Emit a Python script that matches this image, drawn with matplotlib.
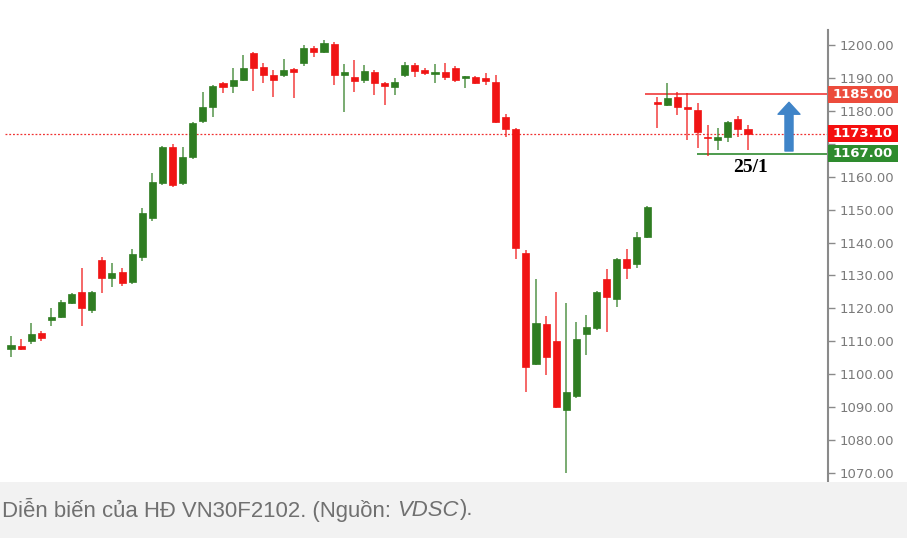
import matplotlib
matplotlib.use("Agg")
import matplotlib.pyplot as plt
import matplotlib.transforms as mtransforms
from matplotlib.patches import Rectangle
import numpy as np

# ---- data (O, H, L, C) ----
opens = [1107.7, 1108.6, 1110.1, 1112.5, 1116.5, 1117.4, 1121.6, 1125.0, 1119.5, 1134.7,
         1129.2, 1131.0, 1128.0, 1135.5, 1147.4, 1158.1, 1169.0, 1158.1, 1166.0, 1176.9,
         1181.2, 1188.5, 1187.5, 1189.4, 1197.6, 1193.3, 1190.9, 1190.9, 1192.7, 1194.5,
         1199.1, 1197.9, 1200.3, 1190.9, 1190.3, 1189.4, 1191.8, 1188.5, 1187.2, 1190.9,
         1193.9, 1192.4, 1191.2, 1191.8, 1193.0, 1190.0, 1190.3, 1190.0, 1188.8, 1178.1,
         1174.5, 1136.8, 1103.1, 1115.3, 1110.1, 1089.1, 1093.4, 1112.2, 1114.0, 1128.9,
         1122.8, 1135.0, 1133.5, 1141.7, 1182.7, 1181.8, 1184.2, 1181.1, 1180.3, 1172.0,
         1171.1, 1172.1, 1177.5, 1174.5]
highs = [1111.6, 1110.7, 1115.6, 1113.1, 1120.1, 1122.5, 1124.7, 1132.3, 1125.3, 1135.6,
         1133.8, 1132.3, 1138.0, 1150.5, 1161.1, 1169.3, 1169.9, 1169.0, 1176.6, 1185.7,
         1187.8, 1188.8, 1193.0, 1197.0, 1197.9, 1194.5, 1192.4, 1195.7, 1193.0, 1200.0,
         1199.7, 1201.5, 1200.9, 1194.2, 1195.4, 1193.9, 1192.4, 1188.8, 1190.0, 1194.8,
         1194.5, 1193.0, 1194.2, 1194.5, 1193.6, 1190.6, 1190.6, 1191.5, 1190.9, 1179.0,
         1174.8, 1137.7, 1128.9, 1117.7, 1125.0, 1121.6, 1115.9, 1118.0, 1125.3, 1132.0,
         1135.3, 1138.0, 1143.2, 1151.1, 1184.2, 1188.5, 1185.7, 1185.4, 1182.4, 1175.7,
         1174.8, 1176.9, 1178.4, 1175.7]
lows = [1105.2, 1107.5, 1109.2, 1110.1, 1114.6, 1117.1, 1121.4, 1114.6, 1118.6, 1124.7,
        1126.5, 1126.8, 1127.5, 1134.5, 1146.5, 1157.5, 1156.9, 1157.5, 1165.4, 1176.3,
        1178.1, 1185.4, 1185.4, 1189.1, 1186.0, 1188.5, 1184.2, 1190.3, 1183.9, 1193.6,
        1196.4, 1197.6, 1187.8, 1179.6, 1185.7, 1188.5, 1184.8, 1181.8, 1184.8, 1190.3,
        1190.3, 1190.9, 1188.5, 1189.4, 1188.8, 1186.9, 1188.2, 1187.8, 1176.3, 1172.1,
        1135.0, 1094.6, 1102.8, 1099.8, 1089.7, 1070.0, 1092.8, 1105.8, 1113.4, 1112.8,
        1120.4, 1128.9, 1132.3, 1141.4, 1174.8, 1181.5, 1178.7, 1171.1, 1168.7, 1166.3,
        1168.1, 1170.5, 1172.1, 1168.1]
closes = [1108.9, 1107.7, 1112.2, 1111.0, 1117.4, 1121.9, 1124.4, 1120.1, 1125.0, 1129.2,
          1130.7, 1127.7, 1136.5, 1149.0, 1158.4, 1169.0, 1157.5, 1166.0, 1176.3, 1181.2,
          1187.5, 1187.2, 1189.4, 1193.0, 1193.0, 1190.9, 1189.4, 1192.4, 1191.8, 1199.1,
          1197.9, 1200.6, 1190.9, 1191.8, 1189.1, 1192.1, 1188.5, 1187.5, 1188.8, 1193.9,
          1192.1, 1191.5, 1191.8, 1190.3, 1189.4, 1190.3, 1188.5, 1189.1, 1176.6, 1174.5,
          1138.3, 1102.2, 1115.6, 1105.2, 1090.0, 1094.6, 1110.7, 1114.3, 1125.0, 1123.4,
          1135.0, 1132.3, 1141.7, 1150.8, 1182.2, 1183.9, 1181.2, 1180.6, 1173.6, 1171.6,
          1172.1, 1176.6, 1174.5, 1173.1]

resistance = 1185.00
last_price = 1173.10
support = 1167.00
yticks = [1070, 1080, 1090, 1100, 1110, 1120, 1130, 1140, 1150, 1160, 1170, 1180, 1190, 1200]
hidden_ticks = [1170]  # covered by the price boxes in the original
date_label = "25/1"
caption_main = "Diễn biến của HĐ VN30F2102. (Nguồn: "
caption_ital = "VDSC"
caption_end = ")."

UP = "#2f7d22"
DOWN = "#f01414"

W, H = 907, 538
fig = plt.figure(figsize=(W / 100, H / 100), dpi=100)
fig.patch.set_facecolor("white")

# caption band
fig.patches.append(Rectangle((0, 0), 1, 56 / H, transform=fig.transFigure,
                             facecolor="#f2f2f2", edgecolor="none", zorder=0))

ax = fig.add_axes([0, 1 - 482 / H, 828 / W, 452 / H])
ax.set_facecolor("none")

x = np.arange(len(opens))
o = np.array(opens); c = np.array(closes); h = np.array(highs); l = np.array(lows)
up = c >= o
colors = np.where(up, UP, DOWN)
bottoms = np.minimum(o, c)
heights = np.maximum(np.abs(c - o), 0.5)
ax.vlines(x, l, h, colors=colors, linewidth=1.2, alpha=0.75, zorder=2)
ax.bar(x, heights, bottom=bottoms, width=0.7, color=colors, edgecolor=colors,
       linewidth=0.5, zorder=3)

ax.set_xlim(-11 / 10.096, (828 - 11) / 10.096)
ax.set_ylim(1067.25, 1204.56)

# horizontal levels
xr = ax.get_xlim()[1]
ax.hlines(last_price, -0.6, xr, color="#f03030", linestyle=(0, (1.5, 1.5)), linewidth=0.9, zorder=1)
ax.hlines(resistance, 62.8, xr, color="#f03a3a", linewidth=1.2, zorder=1)
ax.hlines(support, 67.9, xr, color="#2f8a2f", linewidth=1.2, zorder=1)

# axis styling
for s in ["top", "left", "bottom"]:
    ax.spines[s].set_visible(False)
ax.spines["right"].set_color("#8a8a8a")
ax.spines["right"].set_linewidth(1.5)
ax.set_xticks([])
ax.yaxis.tick_right()
ax.set_yticks(yticks)
ax.set_yticklabels(["" if v in hidden_ticks else f"{v:.2f}" for v in yticks])
ax.tick_params(axis="y", direction="out", length=5, width=1, color="#8a8a8a",
               labelcolor="#7a7a7a", labelsize=9.5, pad=3)

# price label boxes
trans = mtransforms.blended_transform_factory(ax.transAxes, ax.transData)
box_w = 70 / 828
box_h = 17.5 / 3.292
for val, col in [(resistance, "#ec4c3c"), (last_price, "#f50f0f"), (support, "#2e8b2e")]:
    ax.add_patch(Rectangle((1.0, val - box_h / 2), box_w, box_h, transform=trans,
                           facecolor=col, edgecolor="none", clip_on=False, zorder=10))
    ax.text(1.0 + box_w / 2, val, f"{val:.2f}", transform=trans, ha="center", va="center",
            color="white", fontsize=9.5, fontweight="bold", clip_on=False, zorder=11)

# blue arrow
ax.annotate("", xy=(77.06, 1182.6), xytext=(77.06, 1167.8),
            arrowprops=dict(arrowstyle="simple,head_length=0.86,head_width=1.58,tail_width=0.58",
                            color="#3f84c8", shrinkA=0, shrinkB=0, mutation_scale=10),
            zorder=5)

# date label
ax.text(73.2, 1162.9, date_label, ha="center", va="center", fontsize=14,
        fontweight="bold", family="Liberation Serif", color="black", zorder=6)

# caption with italic part
fig.canvas.draw()
r = fig.canvas.get_renderer()
cap_y = 1 - 510 / H
fs = 15.9
t1 = fig.text(2 / W, cap_y, caption_main, ha="left", va="center", fontsize=fs,
              family="Liberation Sans", color="#707070")
bb = t1.get_window_extent(r)
t2 = fig.text(bb.x1 / W, cap_y, caption_ital, ha="left", va="center", fontsize=fs,
              family="Liberation Sans", style="italic", color="#707070")
bb2 = t2.get_window_extent(r)
fig.text(bb2.x1 / W + 1 / W, cap_y, caption_end, ha="left", va="center", fontsize=fs,
         family="Liberation Sans", color="#707070")

fig.savefig("out.png", dpi=100, facecolor="white")
